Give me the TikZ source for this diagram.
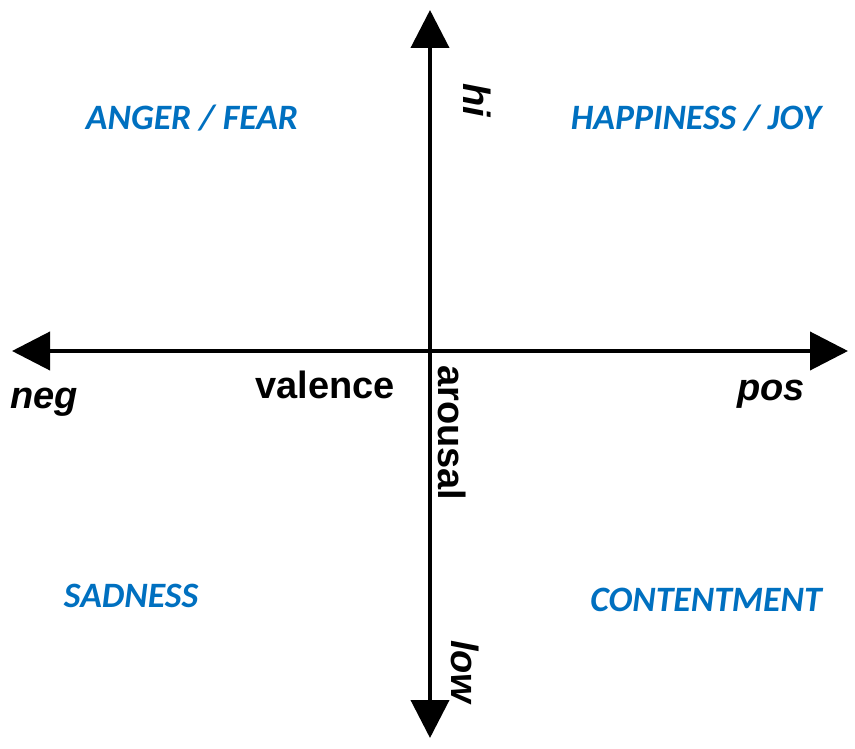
\documentclass[tikz,border=0pt]{standalone}
\usepackage{fontspec}
\newfontfamily\axisfont{Liberation Sans}
\newfontfamily\moodfont{Carlito}
\usetikzlibrary{arrows.meta}
\definecolor{moodblue}{RGB}{0,112,192}
\tikzset{
  % --- axes of the circumplex ---
  axisline/.style={line width=4pt,
    {Triangle[length=38pt, width=38pt]}-{Triangle[length=38pt, width=38pt]}},
  axislabel/.style={font=\axisfont\fontsize{38}{40}\selectfont\bfseries,
    inner sep=0pt},
  polelabel/.style={font=\axisfont\fontsize{38}{40}\selectfont\bfseries\itshape,
    inner sep=0pt},
  % --- emotion quadrants ---
  moodlabel/.style={font=\moodfont\fontsize{35.7}{38}\selectfont\bfseries\itshape,
    text=moodblue, inner sep=0pt, anchor=base},
}

\begin{document}
\begin{tikzpicture}[x=1pt, y=-1pt]
    \useasboundingbox (0,0) rectangle (855,749);
    % ---- Axis end points ----
    \coordinate (origin) at (430,351);
    \coordinate (neg) at (12,351);
    \coordinate (pos) at (848,351);
    \coordinate (hi) at (430,10);
    \coordinate (low) at (430,738);
    % ---- Axes ----
    \draw[axisline] (neg) -- (pos);
    \draw[axisline] (low) -- (hi);
    % ---- Axis names ----
    \node[axislabel, anchor=base west] (valence) at (255,398) {valence};
    \node[axislabel, anchor=base west, rotate=-90] (arousal) at (438,365) {arousal};
    % ---- Poles ----
    \node[polelabel, anchor=base west] (neglbl) at (10,408) {neg};
    \node[polelabel, anchor=base west] (poslbl) at (737,400) {pos};
    \node[polelabel, anchor=base west, rotate=-90] (hilbl) at (463,83) {hi};
    \node[polelabel, anchor=base west, rotate=-90] (lowlbl) at (451,640) {low};
    % ---- Quadrants ----
    \node[moodlabel] (anger) at (192,130) {ANGER / FEAR};
    \node[moodlabel] (joy) at (696,130) {HAPPINESS / JOY};
    \node[moodlabel] (sad) at (131,607) {SADNESS};
    \node[moodlabel] (calm) at (706,611) {CONTENTMENT};
  \end{tikzpicture}
\end{document}
